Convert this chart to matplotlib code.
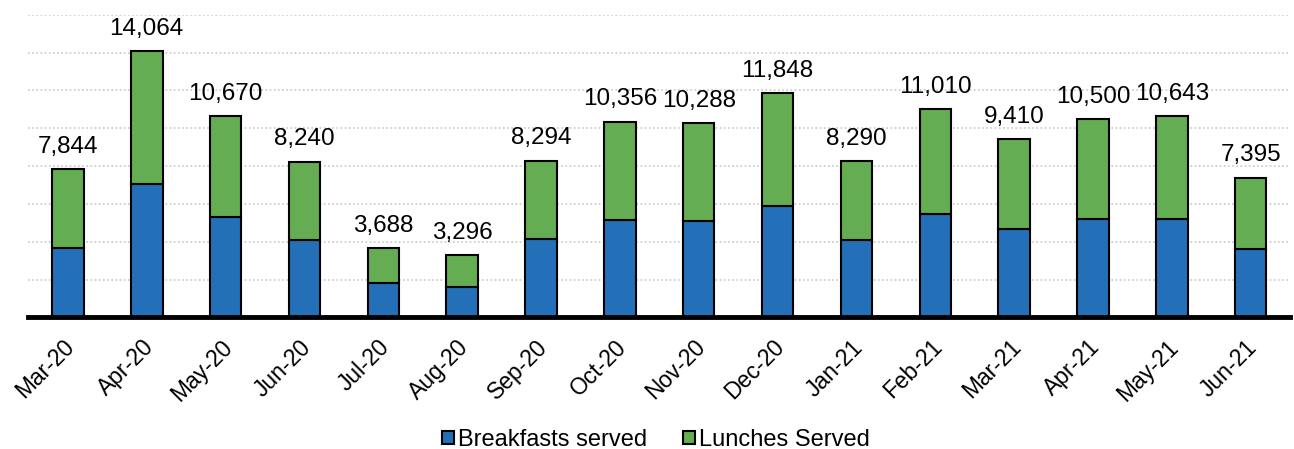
import numpy as np
import matplotlib.pyplot as plt
import matplotlib.transforms as mtransforms

months = ["Mar-20", "Apr-20", "May-20", "Jun-20", "Jul-20", "Aug-20", "Sep-20", "Oct-20",
          "Nov-20", "Dec-20", "Jan-21", "Feb-21", "Mar-21", "Apr-21", "May-21", "Jun-21"]
totals = [7844, 14064, 10670, 8240, 3688, 3296, 8294, 10356,
          10288, 11848, 8290, 11010, 9410, 10500, 10643, 7395]
# breakfast portion
breakfasts = [3650, 7040, 5320, 4110, 1810, 1620, 4130, 5150,
              5110, 5890, 4110, 5470, 4670, 5200, 5190, 3630]
lunches = [t - b for t, b in zip(totals, breakfasts)]

plt.rcParams['font.family'] = ['Liberation Sans', 'DejaVu Sans']

fig = plt.figure(figsize=(12.94, 4.49), dpi=100)
ax = fig.add_axes([0.022, 0.293, 0.975, 0.674])

x = np.arange(len(months))
w = 0.40
ax.bar(x, breakfasts, w, color="#2470B8", edgecolor="black", linewidth=1.5,
       label="Breakfasts served", zorder=3)
ax.bar(x, lunches, w, bottom=breakfasts, color="#65AD52", edgecolor="black",
       linewidth=1.5, label="Lunches Served", zorder=3)

# total labels above each bar
for xi, t in zip(x, totals):
    ax.annotate(f"{t:,}", (xi, t), xytext=(0, 8), textcoords="offset points",
                ha="center", va="bottom", fontsize=17.5)

ax.set_ylim(0, 16000)
ax.set_xlim(-0.5, 15.5)
ax.set_yticks(np.arange(2000, 16001, 2000))
ax.yaxis.grid(True, linestyle=(0, (1, 1.5)), color="#c8c8c8", linewidth=1.2, zorder=0)
ax.tick_params(axis="y", left=False, labelleft=False)
ax.tick_params(axis="x", length=0, pad=13)
ax.set_xticks(x)
ax.set_xticklabels(months, rotation=45, ha="right", rotation_mode="anchor", fontsize=16.5)

# nudge the rotated labels a bit to the left
shift = mtransforms.ScaledTranslation(-5 / 100, 0, fig.dpi_scale_trans)
for lbl in ax.get_xticklabels():
    lbl.set_transform(lbl.get_transform() + shift)

for s in ["top", "right", "left"]:
    ax.spines[s].set_visible(False)
ax.spines["bottom"].set_linewidth(3.5)
ax.spines["bottom"].set_zorder(4)

fig.legend(loc="center", ncol=2, frameon=False, fontsize=17,
           handlelength=0.5, handleheight=0.5, handletextpad=0.2, columnspacing=1.5,
           bbox_to_anchor=(0.507, 0.02))

fig.savefig("out.png", dpi=100)
